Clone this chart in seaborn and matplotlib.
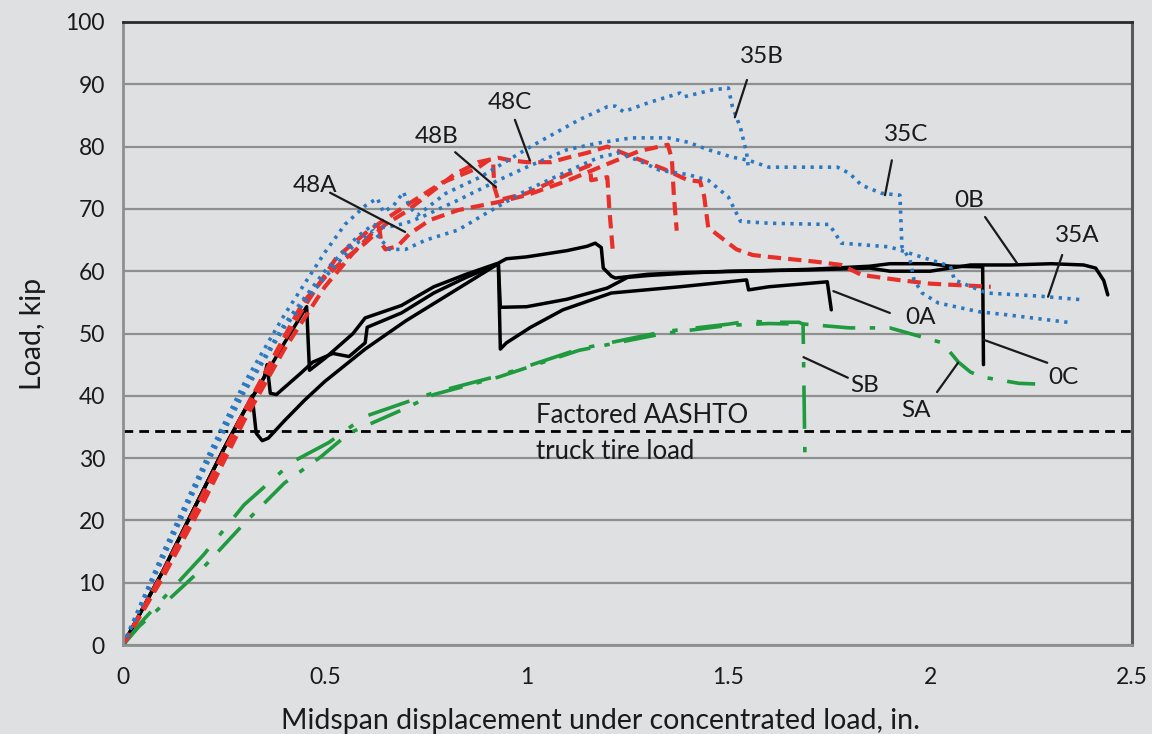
import numpy as np
import pandas as pd
import matplotlib
matplotlib.use("Agg")
import matplotlib.pyplot as plt
import seaborn as sns

# ---- load-displacement records (displacement in., load kip) ----
x_0A = [0, 0.1, 0.2, 0.25, 0.3, 0.35, 0.357, 0.365, 0.38, 0.44, 0.47, 0.52, 0.56, 0.6, 0.605, 0.69, 0.77, 0.85, 0.93,
        0.935, 0.95, 1.01, 1.09, 1.21, 1.38, 1.545, 1.55, 1.6, 1.745, 1.755]
y_0A = [0, 12, 25, 31.5, 37.5, 43, 45, 40.4, 40.2, 43.6, 45.4, 46.8, 46.3, 48.5, 51, 53.3, 56.5, 59, 61.2,
        47.5, 48.5, 51, 53.8, 56.5, 57.5, 58.6, 57, 57.5, 58.3, 53.8]

x_0B = [0, 0.1, 0.2, 0.25, 0.3, 0.32, 0.33, 0.345, 0.36, 0.4, 0.45, 0.5, 0.6, 0.7, 0.8, 0.93,
        0.935, 1.0, 1.1, 1.2, 1.25, 1.3, 1.4, 1.5, 1.7, 1.85, 1.9, 2.0, 2.05, 2.1, 2.2, 2.3, 2.38, 2.41, 2.43, 2.44]
y_0B = [0, 12, 25, 31.5, 37.5, 40, 34, 32.8, 33.2, 36, 39.3, 42.3, 47.5, 52, 56, 61.2,
        54.2, 54.3, 55.5, 57.3, 59, 59.3, 59.7, 60, 60.2, 60.5, 60, 60, 60.5, 61, 61, 61.2, 61, 60.5, 58.5, 56.2]

x_0C = [0, 0.1, 0.2, 0.25, 0.3, 0.35, 0.4, 0.455, 0.462, 0.5, 0.57, 0.6, 0.69, 0.77, 0.85, 0.93, 0.95, 1.0, 1.05,
        1.1, 1.15, 1.17, 1.185, 1.19, 1.21, 1.22, 1.3, 1.4, 1.55, 1.7, 1.85, 1.9, 2.0, 2.05, 2.13, 2.132]
y_0C = [0, 12, 25, 31.5, 37.5, 43, 48.5, 54.3, 44.1, 46, 50, 52.5, 54.5, 57.5, 59.5, 61.3, 62, 62.3, 62.8,
        63.3, 64, 64.5, 63.8, 60.5, 59.2, 58.9, 59.5, 59.8, 60, 60.3, 60.8, 61.2, 61.2, 60.8, 60.7, 45]

x_48A = [0, 0.1, 0.2, 0.3, 0.4, 0.5, 0.57, 0.62, 0.635, 0.64, 0.65, 0.68, 0.71, 0.76, 0.83, 0.93, 1.0, 1.1, 1.2,
         1.28, 1.35, 1.36, 1.365, 1.372]
y_48A = [0, 11, 23, 36, 47.5, 57.5, 62.9, 66.3, 67, 64.5, 63.5, 64, 66, 68.2, 69.8, 71.1, 72.2, 74.5, 77.2,
         79.3, 80.3, 78, 72, 66.5]

x_48B = [0, 0.1, 0.2, 0.3, 0.4, 0.446, 0.53, 0.61, 0.71, 0.79, 0.877, 0.91, 0.917, 0.92, 0.93, 1.0, 1.05, 1.1,
         1.157, 1.16, 1.2, 1.205, 1.214]
y_48B = [0, 11.5, 24, 37, 49, 54, 62.3, 66.6, 70.9, 74.2, 76.5, 78, 77.5, 73.5, 71.4, 72.5, 74, 75.5,
         77, 74.6, 75.1, 70, 62.9]

x_48C = [0, 0.1, 0.2, 0.3, 0.4, 0.446, 0.5, 0.55, 0.6, 0.65, 0.7, 0.76, 0.82, 0.88, 0.93, 0.96, 1.0, 1.06, 1.1,
         1.15, 1.2, 1.26, 1.34, 1.37, 1.4, 1.43, 1.44, 1.45, 1.48, 1.52, 1.56, 1.6, 1.72, 1.78, 1.83, 1.92, 2.0, 2.15]
y_48C = [0, 11.8, 24.5, 37.5, 49.5, 55, 59, 62, 64.5, 67.5, 69.5, 72.5, 75.5, 77.5, 78.2, 77.8, 77.5, 77.5, 78.2,
         79, 80, 78.4, 76.4, 75.5, 74.6, 74.4, 72, 67, 65.5, 63.5, 62.6, 62.3, 61.5, 61, 59.4, 58.6, 58, 57.5]

x_35A = [0, 0.05, 0.1, 0.2, 0.3, 0.4, 0.5, 0.57, 0.62, 0.64, 0.66, 0.7, 0.75, 0.83, 0.9, 1.0, 1.1, 1.18, 1.23,
         1.29, 1.33, 1.4, 1.45, 1.5, 1.53, 1.6, 1.75, 1.78, 1.9, 2.05, 2.06, 2.14, 2.27, 2.38]
y_35A = [0, 7, 14, 28, 40.5, 51, 59, 64, 66.5, 65, 63.5, 63.5, 65, 66.6, 69.3, 73, 76, 78.3, 79,
         77.4, 76.2, 75.5, 74.6, 71.9, 68, 67.7, 67.5, 64.5, 63.9, 60.8, 58.6, 56.5, 56, 55.4]

x_35B = [0, 0.05, 0.1, 0.2, 0.3, 0.4, 0.5, 0.55, 0.6, 0.63, 0.645, 0.67, 0.695, 0.71, 0.73, 0.76, 0.8, 0.885,
         1.01, 1.13, 1.2, 1.22, 1.24, 1.3, 1.38, 1.39, 1.46, 1.5, 1.51, 1.53, 1.545, 1.55]
y_35B = [0, 7.5, 15, 29, 42, 53, 63, 67.5, 70.5, 71.7, 69.5, 70.5, 72.7, 70.3, 69, 70.5, 72.5, 75.1,
         80, 84.3, 86.4, 86.5, 85.6, 87, 88.6, 88, 89.1, 89.4, 86.4, 83, 79, 76.3]

x_35C = [0, 0.05, 0.1, 0.2, 0.3, 0.4, 0.5, 0.58, 0.62, 0.65, 0.7, 0.74, 0.83, 0.93, 1.0, 1.1, 1.18, 1.26, 1.35,
         1.4, 1.45, 1.51, 1.55, 1.6, 1.77, 1.8, 1.83, 1.88, 1.925, 1.93, 1.95, 1.96, 1.98, 2.02, 2.12, 2.19, 2.34]
y_35C = [0, 7.2, 14.5, 28.5, 41, 51.5, 60, 65.5, 67.5, 67, 67.7, 68.7, 71.4, 74.6, 76.7, 79.5, 80.6, 81.4, 81.4,
         80.7, 79.5, 78.3, 77.8, 76.7, 76.7, 75.7, 73.8, 72.5, 72.2, 63.9, 61.8, 58.6, 56.5, 54.9, 53.5, 53, 51.8]

x_SA = [0, 0.04, 0.1, 0.2, 0.3, 0.4, 0.49, 0.56, 0.69, 0.77, 0.93, 1.13, 1.34, 1.5, 1.6, 1.69, 1.8, 1.9, 1.96,
        2.03, 2.07, 2.1, 2.13, 2.22, 2.26]
y_SA = [0, 3, 6.5, 12.5, 19.5, 26, 30.2, 34, 37.7, 40.2, 43, 47.3, 50, 51.3, 51.6, 51.5, 50.9, 50.9, 49.8,
        48.5, 45.4, 43.8, 43, 42, 41.9]

x_SB = [0, 0.05, 0.1, 0.2, 0.3, 0.42, 0.51, 0.6, 0.77, 0.93, 1.13, 1.34, 1.5, 1.55, 1.6, 1.675, 1.685, 1.69]
y_SB = [0, 4, 7.5, 14.5, 22.5, 29.4, 32.5, 36.7, 40.5, 43.2, 47.5, 50.3, 51.5, 52, 51.8, 51.8, 51.5, 28.5]

aashto_load = 34.3

x_ticks = [0, 0.5, 1, 1.5, 2, 2.5]
x_ticklabels = ["0", "0.5", "1", "1.5", "2", "2.5"]
y_ticks = [0, 10, 20, 30, 40, 50, 60, 70, 80, 90, 100]

# ---- styling ----
bg = "#dfe0e2"
ink = "#1a1a1a"
sns.set_theme(style="whitegrid")
plt.rcParams["font.family"] = ["Lato", "DejaVu Sans"]

fig = plt.figure(figsize=(11.52, 7.34), dpi=100, facecolor=bg)
ax = fig.add_axes([123 / 1152, 1 - 645 / 734, (1132 - 123) / 1152, (645 - 22) / 734])
ax.set_facecolor(bg)

red = "#e8302a"
blue = "#2b78c2"
green = "#1f9a3e"

groups = [
    (x_0A, y_0A, "black", "-", 2.5),
    (x_0B, y_0B, "black", "-", 2.5),
    (x_0C, y_0C, "black", "-", 2.5),
    (x_SA, y_SA, green, (0, (9, 4, 1.5, 4)), 2.6),
    (x_SB, y_SB, green, (0, (12, 5, 1.5, 5)), 2.6),
    (x_48A, y_48A, red, (0, (3.2, 1.7)), 3.0),
    (x_48B, y_48B, red, (0, (3.2, 1.7)), 3.0),
    (x_48C, y_48C, red, (0, (3.2, 1.7)), 3.0),
    (x_35A, y_35A, blue, (0, (0.9, 1.5)), 2.6),
    (x_35B, y_35B, blue, (0, (0.9, 1.5)), 2.6),
    (x_35C, y_35C, blue, (0, (0.9, 1.5)), 2.6),
]
for xs, ys, c, ls, lw in groups:
    df = pd.DataFrame({"disp": xs, "load": ys})
    sns.lineplot(data=df, x="disp", y="load", sort=False, estimator=None, ax=ax,
                 color=c, linestyle=ls, linewidth=lw, zorder=3)

# factored AASHTO truck tire load
ax.axhline(aashto_load, color="black", linestyle=(0, (3.5, 2.2)), linewidth=2.0, zorder=2)
ax.text(1.023, 36.8, "Factored AASHTO", ha="left", va="center", fontsize=18.5, color=ink, zorder=4)
ax.text(1.023, 31.0, "truck tire load", ha="left", va="center", fontsize=18.5, color=ink, zorder=4)

# specimen labels with leader lines: (text, text xy, leader start, leader end)
labels = [
    ("48A", (0.476, 73.8), (0.513, 72.6), (0.699, 66.3)),
    ("48B", (0.776, 81.6), (0.823, 79.1), (0.924, 73.5)),
    ("48C", (0.959, 87.1), (0.971, 84.3), (1.008, 77.8)),
    ("35B", (1.583, 94.4), (1.546, 90.7), (1.516, 84.7)),
    ("35C", (1.940, 81.9), (1.905, 77.8), (1.888, 72.2)),
    ("0B", (2.096, 71.4), (2.136, 68.7), (2.215, 61.3)),
    ("35A", (2.364, 65.8), (2.327, 62.6), (2.292, 55.9)),
    ("0A", (1.975, 52.5), (1.900, 53.3), (1.760, 56.8)),
    ("0C", (2.329, 43.0), (2.290, 45.3), (2.132, 49.0)),
    ("SB", (1.838, 41.7), (1.796, 42.9), (1.686, 46.2)),
    ("SA", (1.965, 37.6), (2.017, 40.6), (2.069, 45.3)),
]
for txt, (tx, ty), (x0, y0), (x1, y1) in labels:
    ax.plot([x0, x1], [y0, y1], color=ink, linewidth=1.6, zorder=4)
    ax.text(tx, ty, txt, ha="center", va="center", fontsize=17.5, color=ink, zorder=5)

ax.set_xlim(0, 2.5)
ax.set_ylim(0, 100)
ax.set_xticks(x_ticks)
ax.set_xticklabels(x_ticklabels)
ax.set_yticks(y_ticks)
ax.grid(axis="y", color="#8e9090", linewidth=1.6)
ax.grid(axis="x", visible=False)
ax.tick_params(axis="both", which="both", direction="out", length=5, width=1.5, color="#8e9090",
               labelsize=16.5, labelcolor=ink, pad=8)
ax.tick_params(axis="x", pad=11)

for side in ["left", "bottom"]:
    ax.spines[side].set_color("#8e9090")
    ax.spines[side].set_linewidth(2.0)
ax.spines["right"].set_color("#5a5a5a")
ax.spines["right"].set_linewidth(2.2)
ax.spines["top"].set_color("#2a2a2a")
ax.spines["top"].set_linewidth(2.0)
for s in ax.spines.values():
    s.set_visible(True)
    s.set_zorder(6)

ax.set_xlabel("Midspan displacement under concentrated load, in.", fontsize=20.5, color=ink, labelpad=14)
ax.set_ylabel("Load, kip", fontsize=20.5, color=ink, labelpad=14)
ax.xaxis.label.set_x(0.473)

fig.savefig("out.png", dpi=100, facecolor=bg)
